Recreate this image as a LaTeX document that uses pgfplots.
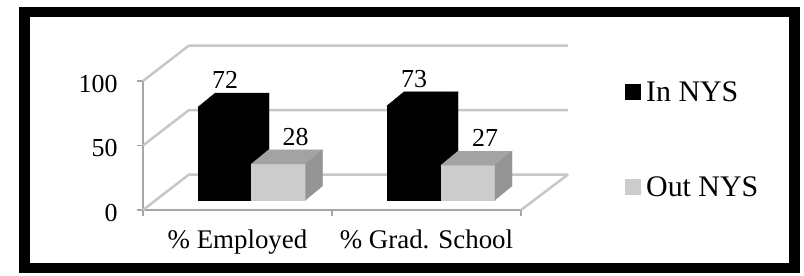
\documentclass[border=0pt]{standalone}
\usepackage{fontspec}
\setmainfont{Liberation Serif}
\usepackage{pgfplots}
\pgfplotsset{compat=1.18}

\newcommand{\tickfont}{\fontsize{26}{30}\selectfont}
\newcommand{\lblfont}{\fontsize{26}{30}\selectfont}
\newcommand{\catfont}{\fontsize{27}{31}\selectfont}
\newcommand{\legfont}{\fontsize{30}{34}\selectfont}

\newcommand{\barbase}{7.75}
\newcommand{\bw}{54}
\newcommand{\ddx}{17}
\newcommand{\ddy}{10.85}

% #1 left x of front face, #2 value, #3 front, #4 top, #5 side, #6 label offset (0 front centre, 1 back centre)
\newcommand{\drawbar}[6]{%
  \pgfmathsetmacro\xa{#1}%
  \pgfmathsetmacro\xb{#1+\bw}%
  \pgfmathsetmacro\xc{#1+\bw+\ddx}%
  \pgfmathsetmacro\xd{#1+\ddx}%
  \pgfmathsetmacro\ya{\barbase}%
  \pgfmathsetmacro\yb{\barbase+#2}%
  \pgfmathsetmacro\yc{\barbase+#2+\ddy}%
  \pgfmathsetmacro\ye{\barbase+\ddy}%
  \pgfmathsetmacro\xl{#1+\bw/2+#6*\ddx}%
  \edef\tmp{%
    \noexpand\addplot[fill=#3, draw=#3, line width=0.3bp, forget plot] coordinates {(\xa,\ya) (\xb,\ya) (\xb,\yb) (\xa,\yb)} --cycle;
    \noexpand\addplot[fill=#4, draw=#4, line width=0.3bp, forget plot] coordinates {(\xa,\yb) (\xb,\yb) (\xc,\yc) (\xd,\yc)} --cycle;
    \noexpand\addplot[fill=#5, draw=#5, line width=0.3bp, forget plot] coordinates {(\xb,\ya) (\xc,\ye) (\xc,\yc) (\xb,\yb)} --cycle;
    \noexpand\node[anchor=south, font=\noexpand\lblfont, inner sep=1bp, yshift=3bp] at (axis cs:\xl,\yc) {#2};
  }\tmp
}

\begin{document}
\begin{tikzpicture}
\begin{axis}[
  x=1bp, y=1.29bp,
  xmin=143, xmax=521, ymin=0, ymax=100,
  clip=false,
  axis x line*=bottom, axis y line*=left,
  axis line style={draw=black!35, line width=1.8bp},
  ytick={0,50,100},
  xtick={143,332,521},
  xticklabels={},
  extra x ticks={237.5,426.5},
  extra x tick labels={\% Employed, \% Grad. School},
  extra x tick style={major tick length=0pt, tick style={draw=none}},
  tick align=outside,
  major tick length=6bp,
  tick style={draw=black!35, line width=1.8bp},
  /pgf/number format/assume math mode=true,
  yticklabel style={font=\tickfont, xshift=-16bp, yshift=-3bp},
  xticklabel style={font=\catfont, yshift=-16bp},
  legend image code/.code={\fill[#1] (0bp,-8bp) rectangle (16bp,8bp);},
  legend style={at={(axis cs:622,103)}, anchor=north west, draw=none, fill=none,
    font=\legfont, row sep=70bp, legend cell align=left,
    nodes={inner xsep=5bp}},
]
% back wall and floor lines
\addplot[draw=black!22, line width=2.5bp, forget plot] coordinates {(143,100) (189,127.5) (568,127.5)};
\addplot[draw=black!22, line width=2.5bp, forget plot] coordinates {(143,50) (189,77.5) (568,77.5)};
\addplot[draw=black!22, line width=2.5bp, forget plot] coordinates {(143,0) (189,27.5) (568,27.5)};
\addplot[draw=black!22, line width=2.5bp, forget plot] coordinates {(521,0) (568,27.5)};

% bars
\drawbar{198}{72}{black}{black}{black}{0}
\drawbar{251.5}{28}{black!20}{black!36}{black!42}{1}
\drawbar{387}{73}{black}{black}{black}{0}
\drawbar{441}{27}{black!20}{black!36}{black!42}{1}

\addlegendimage{fill=black, draw=none}
\addlegendentry{In NYS}
\addlegendimage{fill=black!20, draw=none}
\addlegendentry{Out NYS}

\coordinate (bbA) at (axis cs:0,162.79);
\coordinate (bbB) at (axis cs:804,-50.39);
\coordinate (frA) at (axis cs:24.5,153.49);
\coordinate (frB) at (axis cs:794.5,-44.96);
\end{axis}
\pgfresetboundingbox
\useasboundingbox (bbA) rectangle (bbB);
\draw[line width=10.5bp, black] (frA) rectangle (frB);
\end{tikzpicture}
\end{document}
